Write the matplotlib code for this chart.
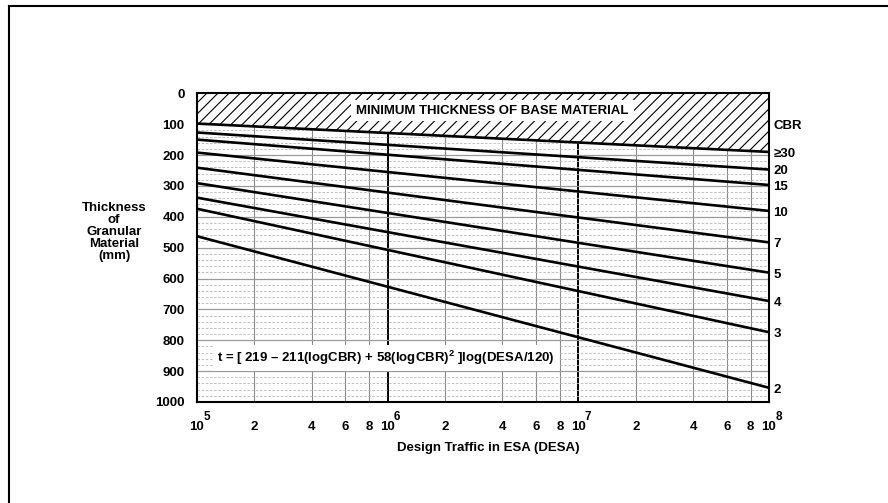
import numpy as np
import matplotlib
matplotlib.use("Agg")
import matplotlib.pyplot as plt
from matplotlib.ticker import LogLocator, FuncFormatter, MultipleLocator
from matplotlib.lines import Line2D

plt.rcParams['font.family'] = ['Liberation Sans', 'DejaVu Sans']
plt.rcParams['font.weight'] = 'bold'
plt.rcParams['mathtext.fontset'] = 'custom'
plt.rcParams['mathtext.rm'] = 'Liberation Sans:bold'
plt.rcParams['mathtext.it'] = 'Liberation Sans:bold'
plt.rcParams['mathtext.bf'] = 'Liberation Sans:bold'
plt.rcParams['hatch.color'] = 'black'
plt.rcParams['hatch.linewidth'] = 0.8

# data: thickness (mm) at both ends of each CBR line
cbr_labels = ['≥30', '20', '15', '10', '7', '5', '4', '3', '2']
desa_ends = [1e5, 1e8]
t_at_1e5 = [98, 127, 150, 192, 241, 291, 338, 374, 463]
t_at_1e8 = [190, 247, 297, 381, 483, 581, 673, 774, 954]
decade_exps = [5, 6, 7, 8]

fs = 9.5
fig = plt.figure(figsize=(8.88, 5.03), dpi=100)
W, H = 888, 503
ax = fig.add_axes([197/W, 1 - 402/H, (769-197)/W, (402-93.3)/H])

ax.set_xscale('log')
ax.set_xlim(1e5, 1e8)
ax.set_ylim(1000, 0)

# grid
ax.yaxis.set_major_locator(MultipleLocator(100))
ax.yaxis.set_minor_locator(MultipleLocator(20))
ax.xaxis.set_major_locator(LogLocator(base=10, numticks=10))
ax.xaxis.set_minor_locator(LogLocator(base=10, subs=[2, 4, 6, 8], numticks=20))
ax.xaxis.set_major_formatter(FuncFormatter(lambda v, p: '10'))
ax.xaxis.set_minor_formatter(FuncFormatter(lambda v, p: '%d' % round(v / 10**np.floor(np.log10(v) + 1e-9))))
ax.set_axisbelow(True)
ax.grid(which='major', axis='x', color='black', lw=1.4)
ax.grid(which='minor', axis='x', color='#8a8a8a', lw=0.8)
ax.grid(which='major', axis='y', color='#9a9a9a', lw=0.9)
ax.grid(which='minor', axis='y', color='#b5b5b5', lw=0.6, ls=(0, (3, 2)))

ax.tick_params(which='both', length=0, labelsize=fs)
ax.tick_params(axis='y', pad=9)
ax.tick_params(axis='x', which='both', pad=14)
for s in ax.spines.values():
    s.set_linewidth(1.5)
    s.set_zorder(5)

# exponents of the decade labels
for e in decade_exps:
    ax.annotate(str(e), xy=(10.0**e, 0), xycoords=ax.get_xaxis_transform(),
                xytext=(4.6, -11), textcoords='offset points',
                ha='left', va='center', fontsize=8.5, fontweight='bold',
                annotation_clip=False)

# minimum base thickness zone (above top CBR line)
top_line = [t_at_1e5[0], t_at_1e8[0]]
ax.fill_between(desa_ends, 0, top_line, facecolor='white', linewidth=0, zorder=2)
ax.fill_between(desa_ends, 0, top_line, facecolor='none', edgecolor='black',
                hatch='///', linewidth=0, zorder=2.1)

for lab, a, b in zip(cbr_labels, t_at_1e5, t_at_1e8):
    ax.plot(desa_ends, [a, b], color='black', lw=1.9, zorder=3, solid_capstyle='butt')
    ax.text(1.008, b + 6, lab, transform=ax.get_yaxis_transform(),
            ha='left', va='center', fontsize=fs, fontweight='bold')

ax.text(1.008, 105, 'CBR', transform=ax.get_yaxis_transform(),
        ha='left', va='center', fontsize=fs, fontweight='bold')

ax.text(10**6.55, 56, 'MINIMUM THICKNESS OF BASE MATERIAL', ha='center', va='center',
        fontsize=fs, fontweight='bold', zorder=4,
        bbox=dict(facecolor='white', edgecolor='none', pad=3.5))

ax.text(1.27e5, 857, r't = [ 219 – 211(logCBR) + 58(logCBR)$^2$ ]log(DESA/120)',
        ha='left', va='center', fontsize=fs, fontweight='bold', zorder=4,
        bbox=dict(facecolor='white', edgecolor='none', pad=3))

fig.text(488/W, 1 - 448/H, 'Design Traffic in ESA (DESA)', ha='center', va='center',
         fontsize=fs, fontweight='bold')
fig.text(114/W, 1 - 232/H, 'Thickness\nof\nGranular\nMaterial\n(mm)', ha='center',
         va='center', fontsize=fs, fontweight='bold', linespacing=0.98)

# outer frame (left and top edges)
fig.add_artist(Line2D([9/W, 9/W], [0, 1 - 6/H], color='black', lw=1.5))
fig.add_artist(Line2D([9/W, 1], [1 - 6/H, 1 - 6/H], color='black', lw=1.5))

fig.savefig('out.png', dpi=100)
